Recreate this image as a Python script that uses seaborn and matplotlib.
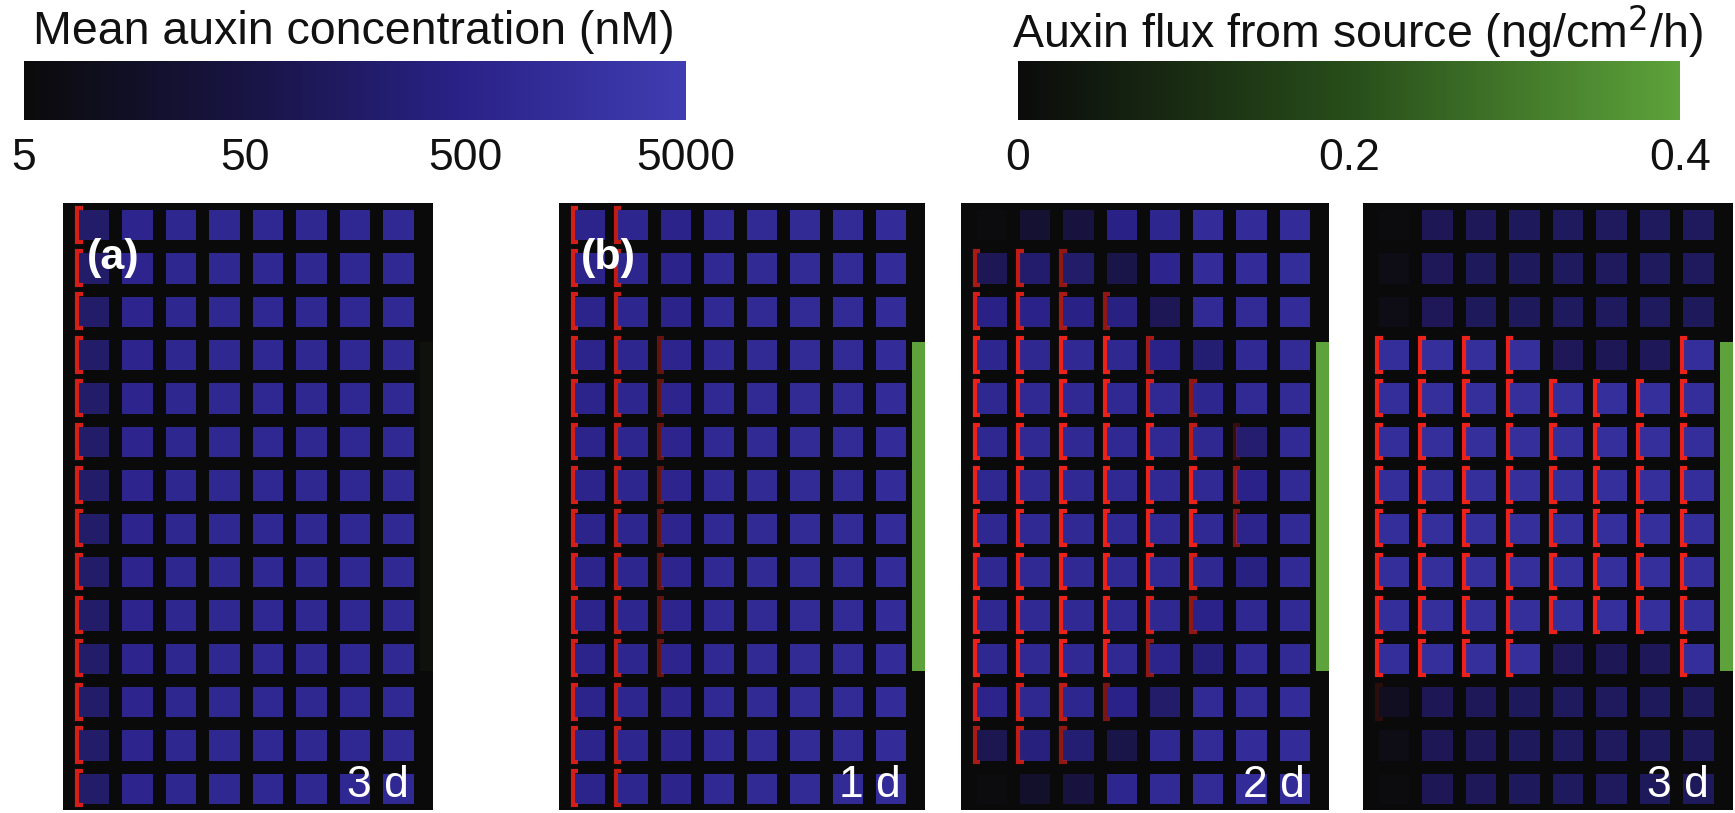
import numpy as np
import matplotlib
matplotlib.use("Agg")
import matplotlib.pyplot as plt
import seaborn as sns
from matplotlib.colors import LinearSegmentedColormap, LogNorm, Normalize
from matplotlib.cm import ScalarMappable

sns.set_theme(style="white")
plt.rcParams["font.family"] = ["Liberation Sans", "DejaVu Sans"]

# mean auxin concentration per cell (nM), 14 rows x 8 columns
conc_a = [
    [180, 650, 750, 800, 850, 800, 850, 900],
    [180, 650, 750, 800, 850, 800, 850, 900],
    [180, 650, 750, 800, 850, 800, 850, 900],
    [180, 650, 750, 800, 850, 800, 850, 900],
    [180, 650, 750, 800, 850, 800, 850, 900],
    [180, 650, 750, 800, 850, 800, 850, 900],
    [180, 650, 750, 800, 850, 800, 850, 900],
    [180, 650, 750, 800, 850, 800, 850, 900],
    [180, 650, 750, 800, 850, 800, 850, 900],
    [180, 650, 750, 800, 850, 800, 850, 900],
    [180, 650, 750, 800, 850, 800, 850, 900],
    [180, 650, 750, 800, 850, 800, 850, 900],
    [180, 650, 750, 800, 850, 800, 850, 900],
    [180, 650, 750, 800, 850, 800, 850, 900],
]
conc_b = [
    [600, 700, 550, 900, 1000, 1100, 1100, 1200],
    [600, 700, 550, 900, 1000, 1100, 1100, 1200],
    [600, 700, 550, 900, 1000, 1100, 1100, 1200],
    [600, 700, 650, 900, 1000, 1100, 1100, 1200],
    [600, 700, 650, 900, 1000, 1100, 1100, 1200],
    [600, 700, 650, 900, 1000, 1100, 1100, 1200],
    [600, 700, 650, 900, 1000, 1100, 1100, 1200],
    [600, 700, 650, 900, 1000, 1100, 1100, 1200],
    [600, 700, 650, 900, 1000, 1100, 1100, 1200],
    [600, 700, 650, 900, 1000, 1100, 1100, 1200],
    [600, 700, 650, 900, 1000, 1100, 1100, 1200],
    [600, 700, 600, 900, 1000, 1100, 1100, 1200],
    [600, 700, 600, 900, 1000, 1100, 1100, 1200],
    [600, 700, 600, 900, 1000, 1100, 1100, 1200],
]
conc_c = [
    [6, 25, 40, 450, 700, 1200, 1200, 1200],
    [90, 200, 180, 60, 650, 1200, 1200, 1300],
    [450, 500, 450, 400, 90, 1000, 1100, 1200],
    [700, 800, 900, 800, 500, 250, 900, 1100],
    [800, 900, 900, 900, 900, 700, 1000, 1100],
    [800, 900, 900, 900, 900, 800, 220, 1000],
    [800, 900, 900, 900, 900, 900, 500, 1000],
    [800, 900, 900, 900, 900, 900, 600, 1000],
    [800, 900, 900, 900, 900, 800, 400, 1000],
    [800, 900, 900, 900, 800, 500, 800, 1000],
    [800, 900, 900, 900, 600, 300, 900, 1000],
    [600, 800, 700, 500, 180, 1000, 1100, 1200],
    [80, 350, 250, 60, 800, 1100, 1200, 1200],
    [6, 18, 40, 700, 1000, 1100, 1200, 1200],
]
conc_d = [
    [6, 90, 100, 110, 120, 120, 120, 120],
    [8, 100, 110, 110, 120, 120, 120, 120],
    [8, 100, 110, 110, 120, 120, 120, 110],
    [1400, 1500, 1500, 1500, 100, 90, 100, 1400],
    [1400, 1500, 1500, 1500, 1500, 1500, 1500, 1400],
    [1400, 1500, 1500, 1500, 1500, 1500, 1500, 1400],
    [1400, 1500, 1500, 1500, 1500, 1500, 1500, 1400],
    [1400, 1500, 1500, 1500, 1500, 1500, 1500, 1400],
    [1400, 1500, 1500, 1500, 1500, 1500, 1500, 1400],
    [1400, 1500, 1500, 1500, 1500, 1500, 1500, 1400],
    [1400, 1500, 1500, 1500, 100, 90, 100, 1400],
    [12, 90, 100, 110, 120, 120, 110, 110],
    [8, 90, 100, 110, 120, 120, 110, 110],
    [6, 90, 100, 110, 120, 120, 110, 110],
]

# PIN polarisation (red) strength on left cell wall, 0..1
pin_a = [
    [0.9, 0, 0, 0, 0, 0, 0, 0],
    [0.9, 0, 0, 0, 0, 0, 0, 0],
    [0.9, 0, 0, 0, 0, 0, 0, 0],
    [0.9, 0, 0, 0, 0, 0, 0, 0],
    [0.9, 0, 0, 0, 0, 0, 0, 0],
    [0.9, 0, 0, 0, 0, 0, 0, 0],
    [0.9, 0, 0, 0, 0, 0, 0, 0],
    [0.9, 0, 0, 0, 0, 0, 0, 0],
    [0.9, 0, 0, 0, 0, 0, 0, 0],
    [0.9, 0, 0, 0, 0, 0, 0, 0],
    [0.9, 0, 0, 0, 0, 0, 0, 0],
    [0.9, 0, 0, 0, 0, 0, 0, 0],
    [0.9, 0, 0, 0, 0, 0, 0, 0],
    [0.9, 0, 0, 0, 0, 0, 0, 0],
]
pin_b = [
    [0.9, 0.8, 0, 0, 0, 0, 0, 0],
    [0.9, 0.8, 0, 0, 0, 0, 0, 0],
    [0.9, 0.8, 0, 0, 0, 0, 0, 0],
    [0.9, 0.8, 0.4, 0, 0, 0, 0, 0],
    [0.9, 0.8, 0.4, 0, 0, 0, 0, 0],
    [0.9, 0.8, 0.4, 0, 0, 0, 0, 0],
    [0.9, 0.8, 0.4, 0, 0, 0, 0, 0],
    [0.9, 0.8, 0.4, 0, 0, 0, 0, 0],
    [0.9, 0.8, 0.4, 0, 0, 0, 0, 0],
    [0.9, 0.8, 0.4, 0, 0, 0, 0, 0],
    [0.9, 0.8, 0.4, 0, 0, 0, 0, 0],
    [0.9, 0.8, 0, 0, 0, 0, 0, 0],
    [0.9, 0.8, 0, 0, 0, 0, 0, 0],
    [0.9, 0.8, 0, 0, 0, 0, 0, 0],
]
pin_c = [
    [0, 0, 0, 0, 0, 0, 0, 0],
    [0.7, 0.8, 0.6, 0, 0, 0, 0, 0],
    [0.9, 0.9, 0.7, 0.6, 0, 0, 0, 0],
    [1, 1, 1, 1, 0.7, 0, 0, 0],
    [1, 1, 1, 1, 0.9, 0.6, 0, 0],
    [1, 1, 1, 1, 1, 0.8, 0.2, 0],
    [1, 1, 1, 1, 1, 1, 0.6, 0],
    [1, 1, 1, 1, 1, 1, 0.5, 0],
    [1, 1, 1, 1, 1, 0.9, 0, 0],
    [1, 1, 1, 1, 0.9, 0.6, 0, 0],
    [1, 1, 1, 1, 0.6, 0, 0, 0],
    [0.9, 0.9, 0.8, 0.5, 0, 0, 0, 0],
    [0.7, 0.8, 0.6, 0, 0, 0, 0, 0],
    [0, 0, 0, 0, 0, 0, 0, 0],
]
pin_d = [
    [0, 0, 0, 0, 0, 0, 0, 0],
    [0, 0, 0, 0, 0, 0, 0, 0],
    [0, 0, 0, 0, 0, 0, 0, 0],
    [1, 1, 1, 1, 0, 0, 0, 1],
    [1, 1, 1, 1, 1, 1, 1, 1],
    [1, 1, 1, 1, 1, 1, 1, 1],
    [1, 1, 1, 1, 1, 1, 1, 1],
    [1, 1, 1, 1, 1, 1, 1, 1],
    [1, 1, 1, 1, 1, 1, 1, 1],
    [1, 1, 1, 1, 1, 1, 1, 1],
    [1, 1, 1, 1, 0, 0, 0, 1],
    [0.15, 0, 0, 0, 0, 0, 0, 0],
    [0, 0, 0, 0, 0, 0, 0, 0],
    [0, 0, 0, 0, 0, 0, 0, 0],
]

source_flux = [0.02, 0.4, 0.4, 0.4]   # ng/cm2/h
source_rows = [3.2, 10.8]
panel_tags = ["(a)", "(b)", "", ""]
panel_days = ["3 d", "1 d", "2 d", "3 d"]

blue_cmap = LinearSegmentedColormap.from_list(
    "auxin", ["#0b0b0b", "#181443", "#2a2288", "#403db2"])
green_cmap = LinearSegmentedColormap.from_list(
    "flux", ["#0b0b0b", "#274d1a", "#5da23a"])
red = "#ec2119"

W, H = 1735, 813
fig = plt.figure(figsize=(W / 100, H / 100), dpi=100)
fig.patch.set_facecolor("white")

panel_x = [(63, 433), (559, 925), (961, 1329), (1363, 1733)]
concs = [conc_a, conc_b, conc_c, conc_d]
pins = [pin_a, pin_b, pin_c, pin_d]
flux_norm = Normalize(0, 0.4)

for k, (x0, x1) in enumerate(panel_x):
    ax = fig.add_axes([x0 / W, (H - 810) / H, (x1 - x0) / W, 607 / H])
    ax.set_facecolor("#0a0a0a")
    sns.heatmap(np.log10(np.array(concs[k], dtype=float)), ax=ax, cmap=blue_cmap,
                vmin=np.log10(5), vmax=np.log10(5000), cbar=False,
                linewidths=9, linecolor="#0a0a0a",
                xticklabels=False, yticklabels=False)
    # PIN marks, drawn as "[" brackets on the left wall of each cell
    pin = np.array(pins[k])
    for r in range(pin.shape[0]):
        for c in range(pin.shape[1]):
            p = pin[r, c]
            if p <= 0:
                continue
            ax.plot([c + 0.25, c + 0.12, c + 0.12, c + 0.25],
                    [r + 0.11, r + 0.11, r + 0.89, r + 0.89],
                    color=red, alpha=p, lw=3.0, solid_joinstyle="miter",
                    solid_capstyle="butt", zorder=3)
    # auxin source on the right
    ax.bar(8.15, source_rows[1] - source_rows[0], bottom=source_rows[0], width=0.3,
           color=green_cmap(flux_norm(source_flux[k])), linewidth=0, zorder=3)
    ax.set_xlim(-0.2, 8.3)
    ax.set_ylim(14, 0)
    for s in ax.spines.values():
        s.set_visible(False)
    if panel_tags[k]:
        ax.text(0.135, 0.909, panel_tags[k], transform=ax.transAxes, color="white",
                fontsize=31, fontweight="bold", ha="center", va="center", zorder=4)
    ax.text(0.935, 0.022, panel_days[k], transform=ax.transAxes, color="white",
            fontsize=32, ha="right", va="baseline", zorder=4)

# colour bars
cax1 = fig.add_axes([24 / W, (H - 120) / H, 662 / W, 59 / H])
cb1 = fig.colorbar(ScalarMappable(norm=LogNorm(5, 5000), cmap=blue_cmap),
                   cax=cax1, orientation="horizontal")
cb1.minorticks_off()
cb1.set_ticks([5, 50, 500, 5000])
cb1.set_ticklabels(["5", "50", "500", "5000"])
cb1.outline.set_visible(False)
cax1.tick_params(length=0, labelsize=32, pad=13, colors="#111111")

cax2 = fig.add_axes([1018 / W, (H - 120) / H, 662 / W, 59 / H])
cb2 = fig.colorbar(ScalarMappable(norm=flux_norm, cmap=green_cmap),
                   cax=cax2, orientation="horizontal")
cb2.set_ticks([0, 0.2, 0.4])
cb2.set_ticklabels(["0", "0.2", "0.4"])
cb2.outline.set_visible(False)
cax2.tick_params(length=0, labelsize=32, pad=13, colors="#111111")

fig.text(33 / W, 1 - 32 / H, "Mean auxin concentration (nM)", fontsize=33.5,
         va="center", ha="left", color="#111111")
fig.text(1012 / W, 1 - 32 / H, "Auxin flux from source (ng/cm$^2$/h)", fontsize=33.5,
         va="center", ha="left", color="#111111")

fig.savefig("out.png", dpi=100, facecolor="white")
